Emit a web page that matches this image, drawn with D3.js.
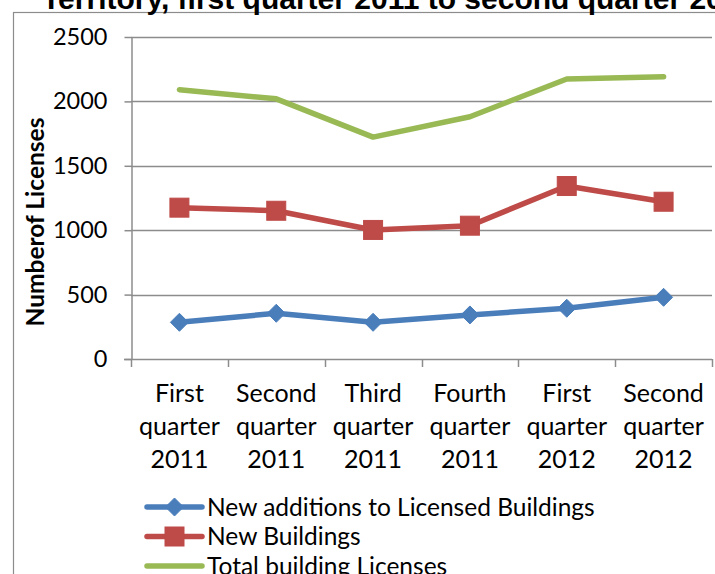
<!DOCTYPE html>
<html>
<head>
<meta charset="utf-8">
<script src="https://cdn.jsdelivr.net/npm/d3@7"></script>
<style>
  body { margin: 0; background: #fff; }
  svg { display: block; }
</style>
</head>
<body>
<script>

// chart values
const categories = [
    ["First", "quarter", "2011"],
    ["Second", "quarter", "2011"],
    ["Third", "quarter", "2011"],
    ["Fourth", "quarter", "2011"],
    ["First", "quarter", "2012"],
    ["Second", "quarter", "2012"]
];
const newAdditions = [285, 355, 285, 342, 394, 479];
const newBuildings = [1175, 1151, 1002, 1035, 1343, 1221];
const totalLicenses = [2091, 2020, 1723, 1881, 2174, 2192];
const yTicks = [0, 500, 1000, 1500, 2000, 2500];
const seriesNames = ["New additions to Licensed Buildings", "New Buildings", "Total building Licenses"];
const titleText = "Territory, first quarter 2011 to second quarter 2012";
const yLabel = "Numberof Licenses";

const width = 715;
const height = 574;
const marginLeft = 131;
const marginRight = 3;
const marginTop = 37;
const plotBottom = 359;

const svg = d3.create("svg")
    .attr("width", width)
    .attr("height", height)
    .attr("viewBox", [0, 0, width, height]);
document.body.appendChild(svg.node());

// chart frame (runs off the right and bottom edges)
svg.append("rect")
    .attr("x", 13.5)
    .attr("y", 12.5)
    .attr("width", 800)
    .attr("height", 700)
    .attr("fill", "none")
    .attr("stroke", "#8c8c8c")
    .attr("stroke-width", 1.2);

// title, mostly cut off at the top
svg.append("text")
    .attr("x", 42)
    .attr("y", 9)
    .attr("font-family", "Liberation Sans, Arial, sans-serif")
    .attr("font-weight", "bold")
    .attr("font-size", 30)
    .attr("fill", "#000")
    .text(titleText);

const x = d3.scaleBand()
    .domain(d3.range(categories.length))
    .range([marginLeft, width - marginRight])
    .padding(0);

const y = d3.scaleLinear()
    .domain([0, 2500])
    .range([plotBottom, marginTop]);

// gridlines
svg.append("g")
    .selectAll("line")
    .data(yTicks.slice(1))
    .join("line")
    .attr("x1", marginLeft)
    .attr("x2", width - marginRight)
    .attr("y1", d => Math.round(y(d)) + 0.5)
    .attr("y2", d => Math.round(y(d)) + 0.5)
    .attr("stroke", "#8c8c8c")
    .attr("stroke-width", 1.5);

// y axis
svg.append("g")
    .attr("transform", `translate(${marginLeft + 0.5},0)`)
    .call(d3.axisLeft(y).tickValues(yTicks).tickFormat(d3.format("d")).tickSize(7).tickPadding(17).tickSizeOuter(0))
    .call(g => g.select(".domain").attr("stroke", "#8c8c8c").attr("stroke-width", 1.5))
    .call(g => g.selectAll(".tick line").attr("stroke", "#8c8c8c").attr("stroke-width", 1.5))
    .call(g => g.selectAll(".tick text")
        .attr("font-family", "Lato, sans-serif")
        .attr("font-size", 23.5)
        .attr("fill", "#000"));

// x axis line and tick marks at band edges
const xEdges = d3.range(categories.length + 1).map(i => i < categories.length ? x(i) : x(i - 1) + x.bandwidth());
svg.append("line")
    .attr("x1", marginLeft - 7)
    .attr("x2", width - marginRight)
    .attr("y1", plotBottom + 0.5)
    .attr("y2", plotBottom + 0.5)
    .attr("stroke", "#8c8c8c")
    .attr("stroke-width", 1.5);
svg.append("g")
    .selectAll("line")
    .data(xEdges)
    .join("line")
    .attr("x1", d => Math.round(d) + 0.5)
    .attr("x2", d => Math.round(d) + 0.5)
    .attr("y1", plotBottom)
    .attr("y2", plotBottom + 8)
    .attr("stroke", "#8c8c8c")
    .attr("stroke-width", 1.5);

// category labels, three lines each
svg.append("g")
    .selectAll("text")
    .data(categories)
    .join("text")
    .attr("font-family", "Lato, sans-serif")
    .attr("font-size", 25)
    .attr("fill", "#000")
    .attr("text-anchor", "middle")
    .each(function(d, i) {
        const t = d3.select(this);
        d.forEach((line, j) => {
            t.append("tspan")
                .attr("x", x(i) + x.bandwidth() / 2)
                .attr("y", 402 + j * 33)
                .text(line);
        });
    });

// y axis title
svg.append("text")
    .attr("transform", `translate(44,222) rotate(-90)`)
    .attr("text-anchor", "middle")
    .attr("font-family", "Lato, sans-serif")
    .attr("font-weight", "bold")
    .attr("font-size", 24.5)
    .attr("fill", "#000")
    .text(yLabel);

const colors = ["#4a7ebb", "#be4b48", "#98b954"];
const series = [newAdditions, newBuildings, totalLicenses];
const markers = ["diamond", "square", null];

const line = d3.line()
    .x((d, i) => x(i) + x.bandwidth() / 2)
    .y(d => y(d));

function drawMarker(g, type, cx, cy, color) {
    if (type === "diamond") {
        const r = 9;
        g.append("path")
            .attr("d", `M${cx},${cy - r}L${cx + r},${cy}L${cx},${cy + r}L${cx - r},${cy}Z`)
            .attr("fill", color)
            .attr("stroke", color)
            .attr("stroke-width", 1);
    } else if (type === "square") {
        const s = 19;
        g.append("rect")
            .attr("x", cx - s / 2)
            .attr("y", cy - s / 2)
            .attr("width", s)
            .attr("height", s)
            .attr("fill", color)
            .attr("stroke", color)
            .attr("stroke-width", 1);
    }
}

// lines + markers
series.forEach((vals, k) => {
    svg.append("path")
        .datum(vals)
        .attr("fill", "none")
        .attr("stroke", colors[k])
        .attr("stroke-width", 5.5)
        .attr("stroke-linejoin", "round")
        .attr("stroke-linecap", "round")
        .attr("d", line);
    const mg = svg.append("g");
    vals.forEach((v, i) => drawMarker(mg, markers[k], x(i) + x.bandwidth() / 2, y(v), colors[k]));
});

// legend
const legend = svg.append("g");
seriesNames.forEach((name, k) => {
    const ly = 507 + k * 29.5;
    legend.append("line")
        .attr("x1", 147)
        .attr("x2", 202)
        .attr("y1", ly)
        .attr("y2", ly)
        .attr("stroke", colors[k])
        .attr("stroke-width", 5.5)
        .attr("stroke-linecap", "round");
    drawMarker(legend, markers[k], 174.5, ly, colors[k]);
    legend.append("text")
        .attr("x", 207)
        .attr("y", ly + 8.5)
        .attr("font-family", "Lato, sans-serif")
        .attr("font-size", 24.5)
        .attr("fill", "#000")
        .text(name);
});

</script>
</body>
</html>
